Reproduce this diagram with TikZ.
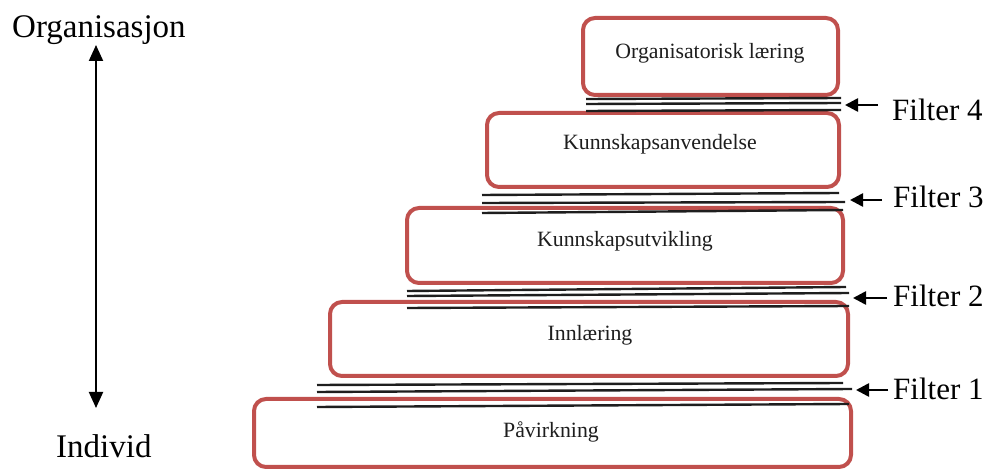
\documentclass[tikz,border=0pt]{standalone}
\usepackage{fontspec}
\setmainfont{Liberation Serif}
\usetikzlibrary{arrows.meta}
\definecolor{boxred}{RGB}{192,80,77}
\definecolor{ink}{RGB}{30,30,30}
\begin{document}
\begin{tikzpicture}[x=1pt,y=-1pt,
 stage/.style={draw=boxred, line width=4pt, rounded corners=12pt, inner sep=0pt, fill=white},
 stagetext/.style={font=\fontsize{21.8}{26}\selectfont, text=ink, inner sep=0pt},
 fline/.style={line width=2.4pt, draw=ink},
 farrow/.style={line width=2.6pt, draw=black, -{Triangle[length=13pt,width=13pt]}},
 flabel/.style={font=\fontsize{31}{36}\selectfont, anchor=base west, inner sep=0pt},
 axislabel/.style={font=\fontsize{33}{38}\selectfont, anchor=base west, inner sep=0pt},
 axisline/.style={line width=2pt, {Triangle[length=16pt,width=14pt]}-{Triangle[length=16pt,width=14pt]}}]
\useasboundingbox (0,0) rectangle (989,470);

% axis
\node[axislabel] (org) at (12,38) {Organisasjon};
\node[axislabel] (ind) at (56,457) {Individ};
\coordinate (axtop) at (96,45);
\coordinate (axbot) at (96,408);
\draw[axisline] (axtop) -- (axbot);

% stages
\node[stage, minimum width=255pt, minimum height=77pt] (b1) at (710.5,56.5) {};
\node[stage, minimum width=352pt, minimum height=74pt] (b2) at (663,150) {};
\node[stage, minimum width=436pt, minimum height=75pt] (b3) at (625,245.5) {};
\node[stage, minimum width=518pt, minimum height=74pt] (b4) at (589,339) {};
\node[stage, minimum width=597pt, minimum height=68pt] (b5) at (552.5,433) {};

\node[stagetext] (t1) at (710,53) {Organisatorisk læring};
\node[stagetext] (t2) at (660,144) {Kunnskapsanvendelse};
\node[stagetext] (t3) at (625,241) {Kunnskapsutvikling};
\node[stagetext] (t4) at (590,335) {Innlæring};
\node[stagetext] (t5) at (551,432) {Påvirkning};

% filter 4
\draw[fline] (586,99) -- (841,98);
\draw[fline] (586,104) -- (841,103);
\draw[fline] (586,111) -- (841,110);
% filter 3
\draw[fline] (482,195) -- (839,193);
\draw[fline] (482,203) -- (845,202);
\draw[fline] (482,213) -- (843,210);
% filter 2
\draw[fline] (407,291) -- (846,287);
\draw[fline] (407,296) -- (849,293);
\draw[fline] (407,308) -- (849,306);
% filter 1
\draw[fline] (317,385) -- (843,383);
\draw[fline] (317,392) -- (852,389);
\draw[fline] (317,407) -- (849,404);

% filter labels and arrows
\node[flabel] (f4) at (892,121) {Filter 4};
\node[flabel] (f3) at (893,208) {Filter 3};
\node[flabel] (f2) at (893,307) {Filter 2};
\node[flabel] (f1) at (893,400) {Filter 1};

\coordinate (a4s) at (878,105); \coordinate (a4e) at (845,105);
\coordinate (a3s) at (882,200); \coordinate (a3e) at (850,200);
\coordinate (a2s) at (887,298); \coordinate (a2e) at (853,298);
\coordinate (a1s) at (888,390); \coordinate (a1e) at (856,390);
\draw[farrow] (a4s) -- (a4e);
\draw[farrow] (a3s) -- (a3e);
\draw[farrow] (a2s) -- (a2e);
\draw[farrow] (a1s) -- (a1e);
\end{tikzpicture}
\end{document}
